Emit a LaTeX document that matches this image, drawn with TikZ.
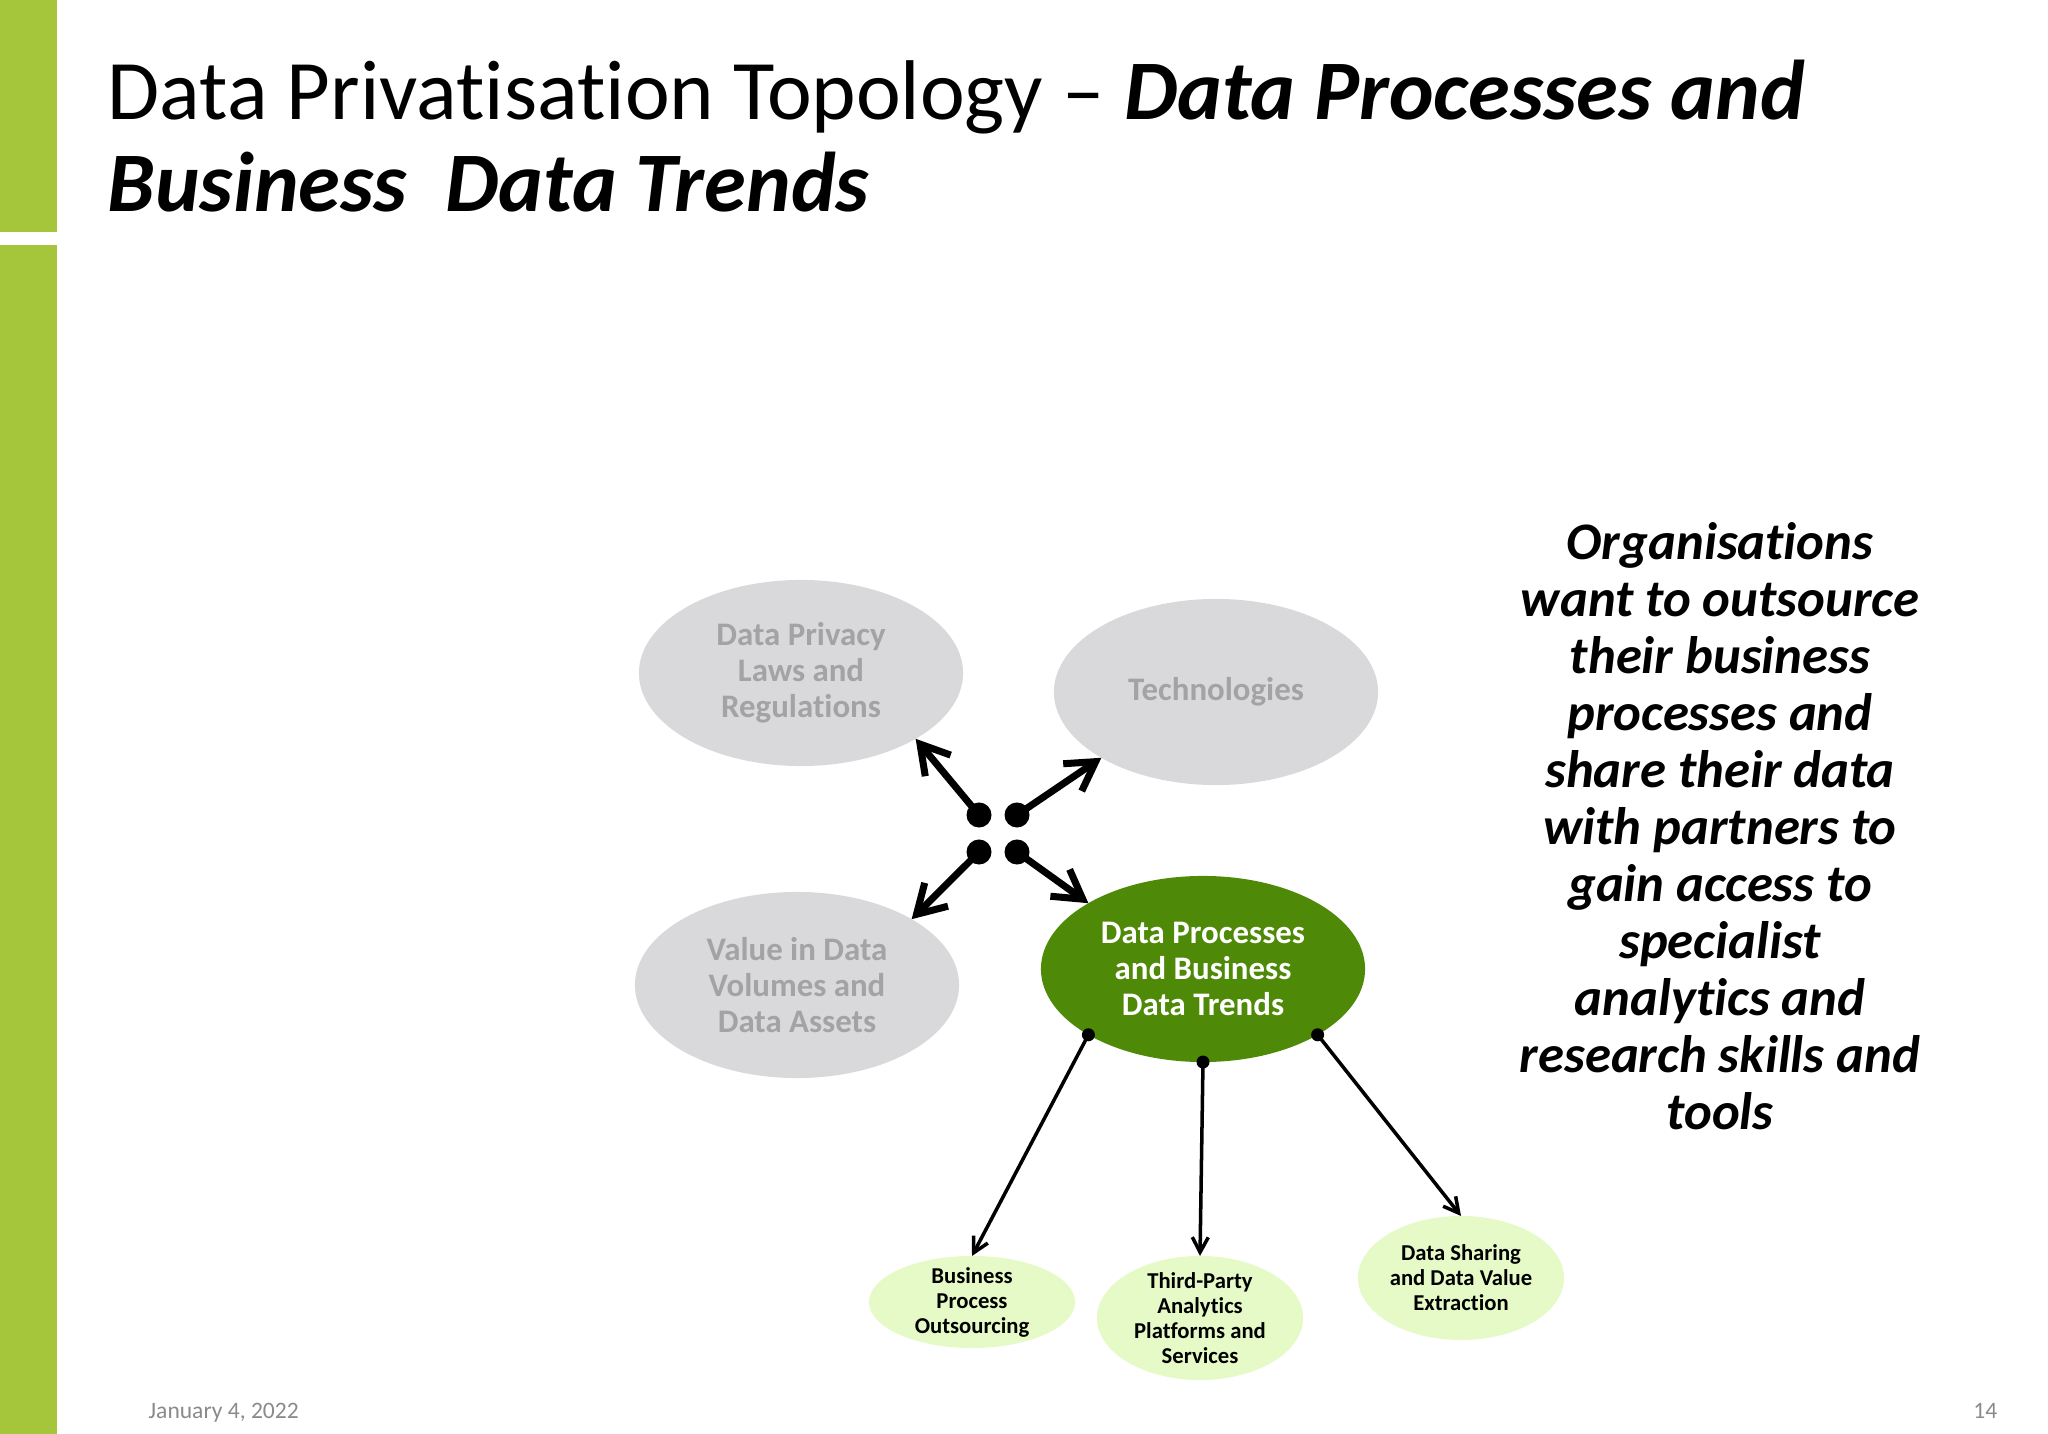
\documentclass[tikz,border=0pt]{standalone}
\usepackage{fontspec}
\setmainfont{Carlito}[Ligatures={TeX,NoCommon}]
\usepackage{xcolor}
\usepackage{tikz}
\usetikzlibrary{shapes.geometric}
\usetikzlibrary{arrows.meta}
\definecolor{barGreen}{HTML}{A5C63B}
\definecolor{topicGray}{HTML}{D9D9DB}
\definecolor{topicText}{HTML}{A3A3A5}
\definecolor{focusGreen}{HTML}{4E8A08}
\definecolor{outcomeGreen}{HTML}{E6FAC8}
\definecolor{footGray}{HTML}{8A8A8A}
\tikzset{
  Topic/.style={ellipse, fill=topicGray, text=topicText, minimum width=3.24cm, minimum height=1.86cm,
    inner sep=0pt, outer sep=0pt, align=center, font=\fontsize{9.35}{10.2}\selectfont\bfseries}, % Themen
  Focus/.style={Topic, fill=focusGreen, text=white}, % Kernthema
  Outcome/.style={ellipse, fill=outcomeGreen, minimum width=2.06cm, inner xsep=-1mm, inner ysep=-1.5mm,
    outer sep=0pt, align=center, font=\fontsize{6.45}{7.1}\selectfont\bfseries}, % Ergebnisse
  Hub/.style={circle, fill=black, minimum size=2.5mm, inner sep=0pt},
  HubArrow/.style={line width=2pt, -{Straight Barb[length=2.8mm,width=3.3mm]}},
  LinkArrow/.style={line width=1pt, -{Straight Barb[length=1.5mm,width=1.6mm]}},
  Plain/.style={inner sep=0pt}
}

\begin{document}
\begin{tikzpicture}[x=0.01cm, y=-0.01cm]
\useasboundingbox (0,0) rectangle (2048,1434);

%Randleiste
\fill[barGreen] (0,0) rectangle (57,232);
\fill[barGreen] (0,245) rectangle (57,1434);

%Titel
\node[Plain, anchor=base west, font=\fontsize{24.1}{27}\selectfont] (titleA) at (107,120)
  {Data Privatisation Topology – \textbf{\textit{Data Processes and}}};
\node[Plain, anchor=base west, font=\fontsize{24.1}{27}\selectfont] (titleB) at (107,212)
  {\textbf{\textit{Business\ \ Data Trends}}};

%Ellipsen
\node[Topic] (privacy) at (801,673) {Data Privacy\\Laws and\\Regulations};
\node[Topic] (tech) at (1216,692) {Technologies};
\node[Topic] (value) at (797,985) {Value in Data\\Volumes and\\Data Assets};
\node[Focus] (trends) at (1203,969) {Data Processes\\and Business\\Data Trends};

\node[Outcome, minimum height=0.92cm] (bpo) at (972,1302) {Business\\Process\\Outsourcing};
\node[Outcome, minimum height=1.24cm] (thirdparty) at (1200,1318) {Third-Party\\Analytics\\Platforms and\\Services};
\node[Outcome, minimum height=1.24cm] (sharing) at (1461,1278) {Data Sharing\\and Data Value\\Extraction};

%Knoten in der Mitte
\node[Hub] (hubNW) at (979,815) {};
\node[Hub] (hubNE) at (1017,815) {};
\node[Hub] (hubSW) at (979,852) {};
\node[Hub] (hubSE) at (1017,852) {};

%Pfeile
\draw[HubArrow] (hubNW.center) -- (privacy.south east);
\draw[HubArrow] (hubNE.center) -- (tech.south west);
\draw[HubArrow] (hubSW.center) -- (value.north east);
\draw[HubArrow] (hubSE.center) -- (trends.north west);

\draw[LinkArrow] (trends.south west) -- (bpo.north);
\draw[LinkArrow] (trends.south) -- (thirdparty.north);
\draw[LinkArrow] (trends.south east) -- (sharing.north);
\foreach \a in {south west, south, south east}
  \fill (trends.\a) circle[radius=0.065cm];

%Text rechts
\node[Plain, align=center, font=\fontsize{15}{16.2}\selectfont\bfseries\itshape] (claim) at (1720,826)
  {Organisations\\want to outsource\\their business\\processes and\\share their data\\with partners to\\gain access to\\specialist\\analytics and\\research skills and\\tools};

%Fusszeile
\node[Plain, anchor=base west, text=footGray, font=\fontsize{6.7}{7.5}\selectfont] (date) at (148,1418) {January 4, 2022};
\node[Plain, anchor=base east, text=footGray, font=\fontsize{6.7}{7.5}\selectfont] (page) at (1998,1418) {14};

\end{tikzpicture}
\end{document}
